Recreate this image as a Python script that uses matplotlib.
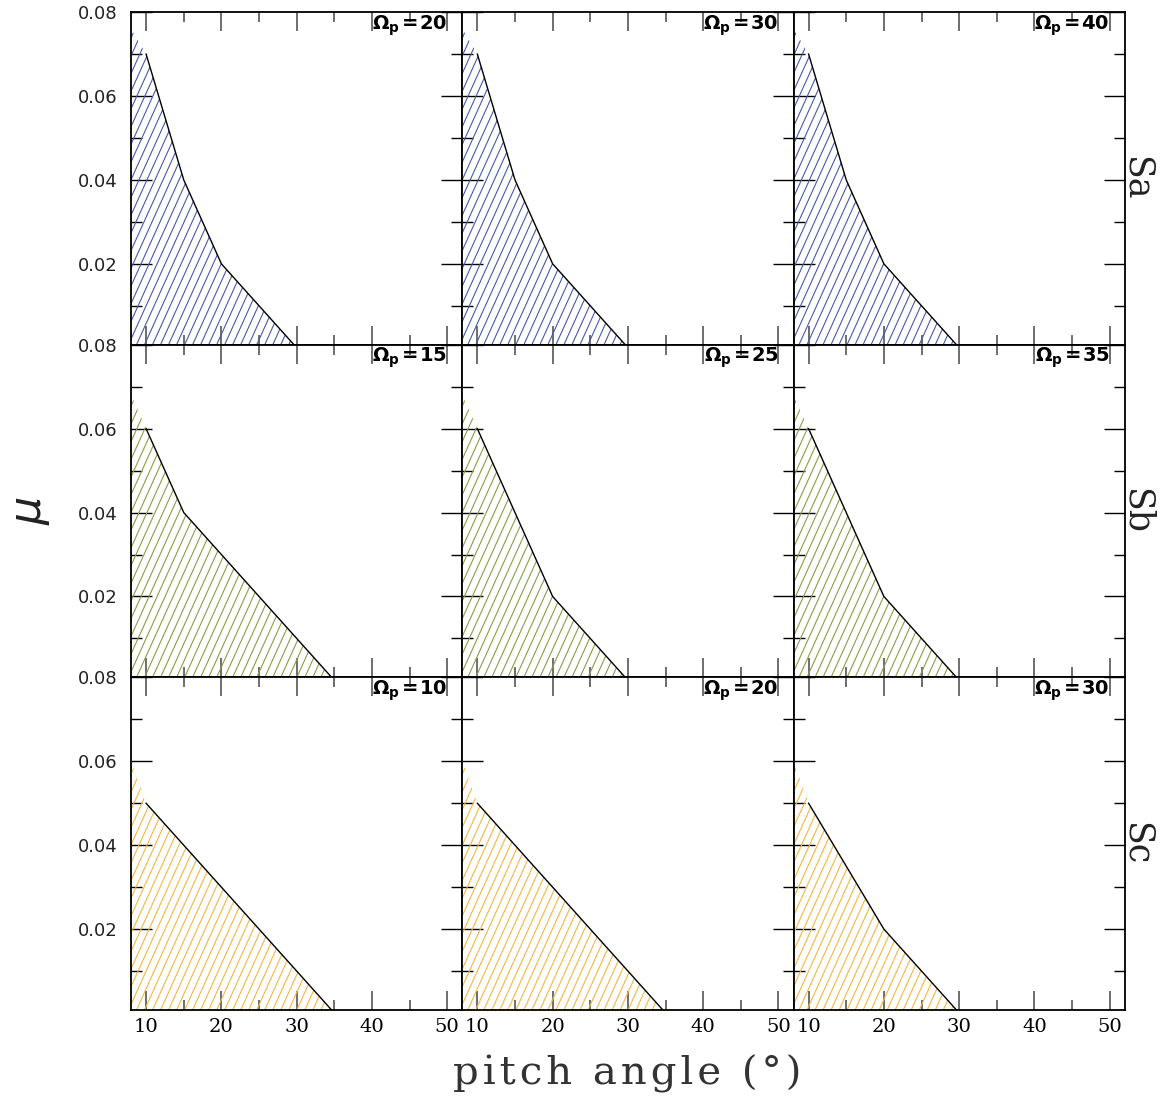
import numpy as np
import matplotlib
matplotlib.use('Agg')
import matplotlib.pyplot as plt
from matplotlib.patches import Polygon
from matplotlib.collections import LineCollection

# rows: galaxy type, columns: three pattern speeds
row_names = ['Sa', 'Sb', 'Sc']
row_colors = ['#4659ae', '#83a245', '#f5b740']
omega_p = [[20, 30, 40],
           [15, 25, 35],
           [10, 20, 30]]

# boundary of the allowed region (pitch angle, mu)
sa_x = [10, 15, 20, 30]
sa_y = [0.07, 0.04, 0.02, 0.0]
sb1_x = [10, 15, 35]
sb1_y = [0.06, 0.04, 0.0]
sb2_x = [10, 20, 30]
sb2_y = [0.06, 0.02, 0.0]
sc1_x = [10, 35]
sc1_y = [0.05, 0.0]
sc2_x = [10, 20, 30]
sc2_y = [0.05, 0.02, 0.0]

curves = [[(sa_x, sa_y), (sa_x, sa_y), (sa_x, sa_y)],
          [(sb1_x, sb1_y), (sb2_x, sb2_y), (sb2_x, sb2_y)],
          [(sc1_x, sc1_y), (sc1_x, sc1_y), (sc2_x, sc2_y)]]

# the shaded region starts from this corner at small pitch angle
anchor_x, anchor_y = 0.0, 0.1

xticks = [10, 20, 30, 40, 50]
yticks = [0.02, 0.04, 0.06, 0.08]

fig, axes = plt.subplots(3, 3, figsize=(11.68, 11.04), dpi=100)
fig.subplots_adjust(left=0.1122, right=0.963, top=0.989, bottom=0.0851,
                    wspace=0, hspace=0)

for i in range(3):
    for j in range(3):
        ax = axes[i, j]
        cx, cy = curves[i][j]
        verts = [(anchor_x, anchor_y)] + list(zip(cx, cy)) + [(cx[-1], -0.01), (anchor_x, -0.01)]
        poly = Polygon(verts, closed=True, facecolor='none', edgecolor='none')
        ax.add_patch(poly)

        # hand made hatching, steeper than the built-in '/' pattern
        s = 2.2
        dx = 0.0242
        segs = [[(c, 0), (c + 1 / s, 1)] for c in np.arange(-1.0, 1.5, dx)]
        lc = LineCollection(segs, colors=row_colors[i], linewidths=0.8,
                            transform=ax.transAxes)
        ax.add_collection(lc)
        lc.set_clip_path(poly)

        ax.plot(cx, cy, color='black', lw=1.0, solid_joinstyle='miter')

        ax.set_xlim(8, 52)
        ax.set_ylim(0.0007, 0.08)
        ax.set_xticks(xticks)
        ax.set_xticks(np.arange(10, 51, 5), minor=True)
        ax.set_yticks(yticks)
        ax.set_yticks(np.arange(0.01, 0.08, 0.01), minor=True)
        ax.tick_params(which='both', direction='in', top=True, right=True)
        ax.tick_params(axis='x', which='major', length=14, width=1.2, color='#555555', pad=6)
        ax.tick_params(axis='x', which='minor', length=7, width=1.2, color='#555555')
        ax.tick_params(axis='y', which='major', length=15, width=1.0, color='black', pad=10)
        ax.tick_params(axis='y', which='minor', length=8, width=1.0, color='black')
        for sp in ax.spines.values():
            sp.set_linewidth(1.3)

        if i == 2:
            ax.set_xticklabels([str(t) for t in xticks], family='DejaVu Serif',
                               fontsize=14)
        else:
            ax.set_xticklabels([])
        if j == 0:
            ax.set_yticklabels(['%.2f' % t for t in yticks], family='DejaVu Sans',
                               fontsize=13, color='#222222')
        else:
            ax.set_yticklabels([])

        ax.text(0.955, 0.96, r'$\mathbf{\Omega_p}$' + '\u200a=\u200a%d' % omega_p[i][j],
                transform=ax.transAxes, ha='right', va='center',
                fontsize=14, fontweight='bold', family='DejaVu Sans')

    axes[i, 2].text(1.035, 0.5, row_names[i], transform=axes[i, 2].transAxes,
                    rotation=-90, ha='center', va='center',
                    fontsize=25, family='DejaVu Serif', color='#222222')

fig.text(0.026, 0.538, r'$\mu$', rotation=90, fontsize=32, ha='center', va='center',
         color='#222222')
fig.text(0.537, 0.027, '\u200a'.join('pitch angle (°)'), fontsize=29,
         family='DejaVu Serif', ha='center', va='center', color='#333333')

fig.savefig('out.png', dpi=100)
